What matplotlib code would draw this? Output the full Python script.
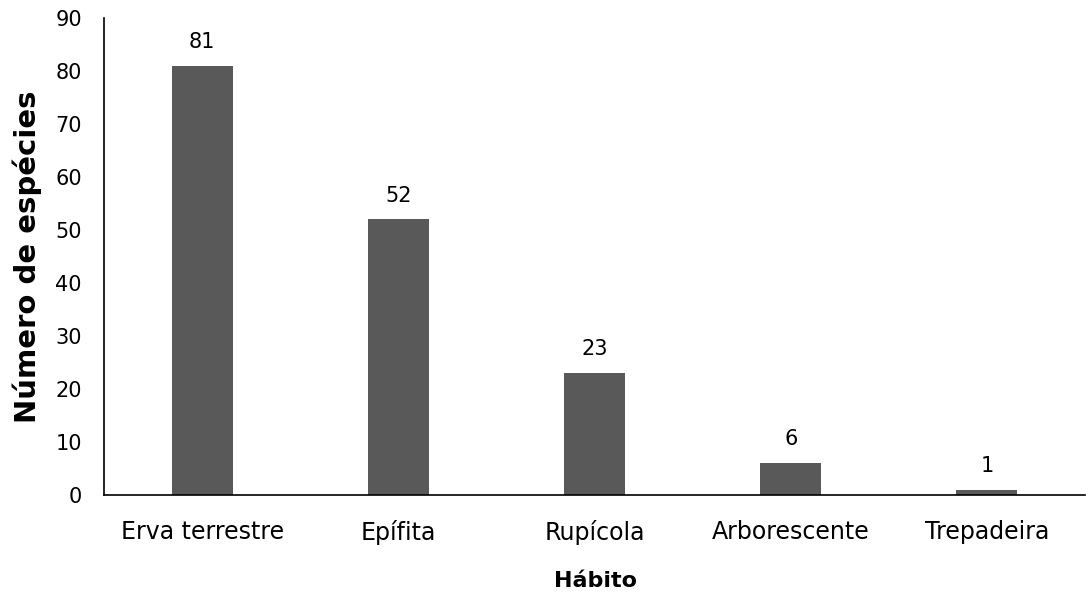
import matplotlib
matplotlib.use("Agg")
import matplotlib.pyplot as plt

categories = ["Erva terrestre", "Epífita", "Rupícola", "Arborescente", "Trepadeira"]
values = [81, 52, 23, 6, 1]
yticks = [0, 10, 20, 30, 40, 50, 60, 70, 80, 90]

plt.rcParams['font.family'] = ['DejaVu Sans']

fig = plt.figure(figsize=(10.86, 6.01), dpi=100)
ax = fig.add_axes([104/1086, 1-495/601, (1085-104)/1086, (495-18)/601])

x = list(range(len(categories)))
bars = ax.bar(x, values, width=0.31, color="#595959", zorder=2)
for xi, v in zip(x, values):
    ax.text(xi, v + 2.6, str(v), ha="center", va="bottom", fontsize=15, color="#000000")

ax.set_xlim(-0.5, len(categories) - 0.5)
ax.set_ylim(0, 90)
ax.set_yticks(yticks)
ax.set_yticklabels([str(t) for t in yticks], fontsize=15)
ax.set_xticks(x)
ax.set_xticklabels(categories, fontsize=17)
ax.tick_params(axis="both", length=0)
ax.tick_params(axis="y", pad=16)
ax.tick_params(axis="x", pad=18)
for s in ["top", "right"]:
    ax.spines[s].set_visible(False)
for s in ["left", "bottom"]:
    ax.spines[s].set_color("#000000")
    ax.spines[s].set_linewidth(1.2)

fig.text(27/1086, 1-257/601, "Número de espécies", rotation=90, ha="center", va="center",
         fontsize=21, fontweight="bold")
fig.text(596/1086, 1-581/601, "Hábito", ha="center", va="center", fontsize=16, fontweight="bold")

fig.savefig("out.png", dpi=100)
